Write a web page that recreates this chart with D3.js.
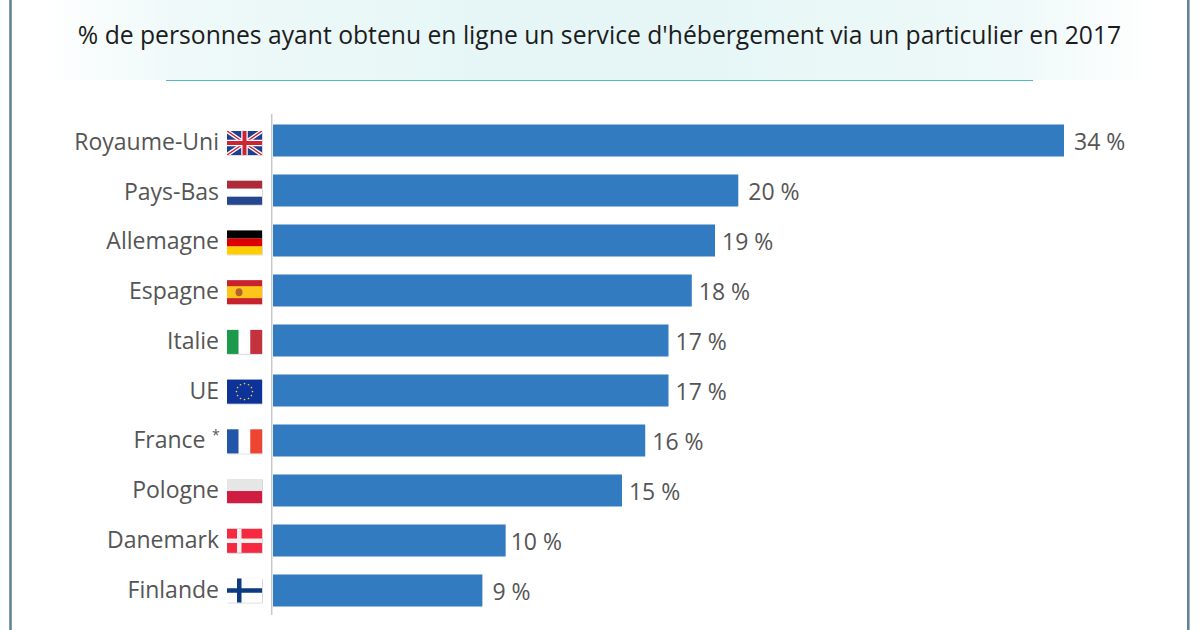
<!DOCTYPE html>
<html>
<head>
<meta charset="utf-8">
<script src="https://cdn.jsdelivr.net/npm/d3@7"></script>
<style>
  html, body { margin: 0; padding: 0; background: #fff; }
  svg { display: block; font-family: "Open Sans", sans-serif; }
</style>
</head>
<body>
<div id="chart"></div>
<script>
// Data
var countries = ["Royaume-Uni", "Pays-Bas", "Allemagne", "Espagne", "Italie", "UE", "France", "Pologne", "Danemark", "Finlande"]
var shares = [34, 20, 19, 18, 17, 17, 16, 15, 10, 9]
var flagCodes = ["uk", "nl", "de", "es", "it", "eu", "fr", "pl", "dk", "fi"]
var subtitle = "% de personnes ayant obtenu en ligne un service d'hébergement via un particulier en 2017"

var width = 1200, height = 630
var flagW = 35, flagH = 24

var svg = d3.select("#chart")
  .append("svg")
    .attr("width", width)
    .attr("height", height)

var defs = svg.append("defs")

// Header background fades out to the sides
var grad = defs.append("linearGradient").attr("id", "headerFade")
grad.selectAll("stop")
  .data([[0, "#ffffff"], [0.12, "#eff9f9"], [0.4, "#e6f6f6"], [0.6, "#e6f6f6"], [0.88, "#eff9f9"], [1, "#ffffff"]])
  .join("stop")
    .attr("offset", d => d[0])
    .attr("stop-color", d => d[1])

var shadow = defs.append("filter").attr("id", "flagShadow")
  .attr("x", "-10%").attr("y", "-10%").attr("width", "125%").attr("height", "125%")
shadow.append("feDropShadow")
  .attr("dx", 0.5).attr("dy", 0.5).attr("stdDeviation", 0.7)
  .attr("flood-color", "#000").attr("flood-opacity", 0.3)

defs.append("clipPath").attr("id", "flagClip")
  .append("rect").attr("width", flagW).attr("height", flagH)

svg.append("rect")
  .attr("x", 40).attr("y", 0)
  .attr("width", 1115).attr("height", 80)
  .attr("fill", "url(#headerFade)")

svg.append("line")
  .attr("x1", 166).attr("x2", 1033)
  .attr("y1", 80.5).attr("y2", 80.5)
  .attr("stroke", "#55b5c8").attr("stroke-width", 1)

// Outer frame, only the sides are in the crop
svg.selectAll("line.frame")
  .data([10.5, 1188.3])
  .join("line")
    .classed("frame", true)
    .attr("x1", d => d).attr("x2", d => d)
    .attr("y1", 0).attr("y2", height)
    .attr("stroke", "#5f8496").attr("stroke-width", 2.6)

svg.append("text")
  .attr("x", 599.5)
  .attr("y", 43.5)
  .attr("text-anchor", "middle")
  .attr("font-size", 24.7)
  .attr("fill", "#1c1c1c")
  .text(subtitle)

// Scales
var x = d3.scaleLinear().domain([0, 34]).range([273, 1064])
var y = d3.scaleBand().domain(countries).range([115.5, 615.5]).paddingInner(0.36).paddingOuter(0.18)
// Labels and flags run on a slightly tighter step than the bars
var yLabel = d3.scalePoint().domain(countries).range([141.5, 589.5])
var yFlag = d3.scalePoint().domain(countries).range([143, 590.5])

// Bars
svg.selectAll("rect.bar")
  .data(countries)
  .join("rect")
    .classed("bar", true)
    .attr("x", x(0))
    .attr("y", d => y(d))
    .attr("width", (d, i) => x(shares[i]) - x(0))
    .attr("height", y.bandwidth())
    .attr("fill", "#327bc1")

// Baseline
svg.append("line")
  .attr("x1", 271.7).attr("x2", 271.7)
  .attr("y1", 114).attr("y2", 615)
  .attr("stroke", "#c8c8c8").attr("stroke-width", 1.5)

// Country labels, France leaves room for its asterisk
svg.selectAll("text.country")
  .data(countries)
  .join("text")
    .classed("country", true)
    .attr("x", d => d === "France" ? 205.5 : 219)
    .attr("y", d => yLabel(d))
    .attr("dy", ".36em")
    .attr("text-anchor", "end")
    .attr("font-size", 23)
    .attr("fill", "#555")
    .text(d => d)

svg.append("text")
  .attr("x", 212)
  .attr("y", yLabel("France"))
  .attr("font-size", 14)
  .attr("fill", "#555")
  .text("*")

// Value labels, the ones starting with a 1 sit closer to their bar
svg.selectAll("text.value")
  .data(shares)
  .join("text")
    .classed("value", true)
    .attr("x", d => x(d) + (d === 10 ? 5 : d > 10 && d < 20 ? 7 : 10))
    .attr("y", (d, i) => y(countries[i]) + y.bandwidth() / 2 + 1)
    .attr("dy", ".36em")
    .attr("font-size", 23)
    .attr("fill", "#555")
    .text(d => d + " %")

// Flags, drawn in a 35x24 box
function stripes(g, colors, vertical) {
  var n = colors.length
  colors.forEach(function(c, i) {
    g.append("rect")
      .attr("x", vertical ? i * flagW / n : 0)
      .attr("y", vertical ? 0 : i * flagH / n)
      .attr("width", vertical ? flagW / n : flagW)
      .attr("height", vertical ? flagH : flagH / n)
      .attr("fill", c)
  })
}

function nordic(g, bg, cross, t) {
  g.append("rect").attr("width", flagW).attr("height", flagH).attr("fill", bg)
  g.append("rect").attr("x", 10).attr("width", t).attr("height", flagH).attr("fill", cross)
  g.append("rect").attr("y", (flagH - t) / 2).attr("width", flagW).attr("height", t).attr("fill", cross)
}

var flags = {
  uk: function(g) {
    var inner = g.append("g").attr("clip-path", "url(#flagClip)")
    inner.append("rect").attr("width", flagW).attr("height", flagH).attr("fill", "#1f3f8f")
    var diag = "M0,0L35,24M35,0L0,24"
    var cross = "M17.5,0V24M0,12H35"
    inner.append("path").attr("d", diag).attr("stroke", "#fff").attr("stroke-width", 4)
    inner.append("path").attr("d", diag).attr("stroke", "#cf2030").attr("stroke-width", 1.4)
    inner.append("path").attr("d", cross).attr("stroke", "#fff").attr("stroke-width", 6.5)
    inner.append("path").attr("d", cross).attr("stroke", "#cf2030").attr("stroke-width", 4)
  },
  nl: function(g) { stripes(g, ["#ae2b38", "#ffffff", "#25478f"], false) },
  de: function(g) { stripes(g, ["#000000", "#dd0000", "#ffce00"], false) },
  es: function(g) {
    g.append("rect").attr("width", flagW).attr("height", flagH).attr("fill", "#c8202f")
    g.append("rect").attr("y", 6).attr("width", flagW).attr("height", 12).attr("fill", "#fbc51c")
    g.append("ellipse").attr("cx", 12).attr("cy", 12).attr("rx", 3.5).attr("ry", 4).attr("fill", "#b5622a")
  },
  it: function(g) { stripes(g, ["#1d9a4c", "#ffffff", "#c4303c"], true) },
  eu: function(g) {
    g.append("rect").attr("width", flagW).attr("height", flagH).attr("fill", "#0b3399")
    g.selectAll("circle")
      .data(d3.range(12))
      .join("circle")
        .attr("cx", d => flagW / 2 + 8 * Math.cos(d * Math.PI / 6))
        .attr("cy", d => flagH / 2 + 8 * Math.sin(d * Math.PI / 6))
        .attr("r", 0.8)
        .attr("fill", "#f6d33c")
  },
  fr: function(g) { stripes(g, ["#2456a8", "#ffffff", "#ee4433"], true) },
  pl: function(g) { stripes(g, ["#e6e6e6", "#d01f3f"], false) },
  dk: function(g) { nordic(g, "#f5293f", "#f4f0f0", 4.5) },
  fi: function(g) { nordic(g, "#ffffff", "#0f3a82", 4.5) }
}

var flagGroups = svg.selectAll("g.flag")
  .data(countries)
  .join("g")
    .classed("flag", true)
    .attr("transform", d => "translate(227," + (yFlag(d) - flagH / 2) + ")")
    .attr("filter", "url(#flagShadow)")

flagGroups.each(function(d, i) {
  flags[flagCodes[i]](d3.select(this))
})
</script>
</body>
</html>
